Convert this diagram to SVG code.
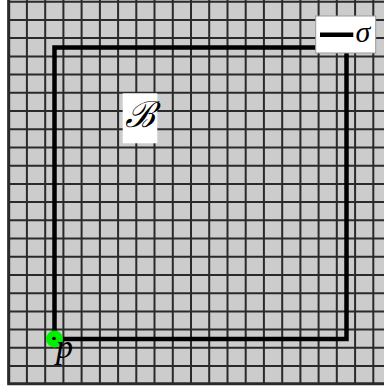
<svg xmlns="http://www.w3.org/2000/svg" width="384" height="389" viewBox="0 0 384 389">
<style>
.grid{stroke:#2a2a2a;stroke-width:2;fill:none}
.border{stroke:#2a2a2a;stroke-width:3;fill:none}
.sigma{stroke:#000;stroke-width:4.5;fill:none;stroke-linejoin:miter}
.lbl{font-family:"Liberation Serif","DejaVu Serif",serif;font-style:italic;fill:#000}
.box{fill:#fff}
</style>
<rect x="0" y="0" width="384" height="389" fill="#fff"/>
<g id="grid">
<rect x="8.7" y="0" width="376" height="383.7" fill="#cccccc"/>
<path class="grid" d="M8.7 0V383.7M26.9 0V383.7M45.2 0V383.7M63.4 0V383.7M81.6 0V383.7M99.9 0V383.7M118.1 0V383.7M136.3 0V383.7M154.5 0V383.7M172.8 0V383.7M191 0V383.7M209.2 0V383.7M227.5 0V383.7M245.7 0V383.7M263.9 0V383.7M282.2 0V383.7M300.4 0V383.7M318.6 0V383.7M336.8 0V383.7M355.1 0V383.7M373.3 0V383.7"/>
<path class="grid" d="M8.7 1.7H384M8.7 19.9H384M8.7 38.1H384M8.7 56.4H384M8.7 74.6H384M8.7 92.8H384M8.7 111H384M8.7 129.2H384M8.7 147.4H384M8.7 165.7H384M8.7 183.9H384M8.7 202.1H384M8.7 220.3H384M8.7 238.5H384M8.7 256.7H384M8.7 275H384M8.7 293.2H384M8.7 311.4H384M8.7 329.6H384M8.7 347.8H384M8.7 366H384"/>
<path class="border" d="M8.7 0V383.7H384"/>
</g>
<g id="connectors">
<path class="sigma" d="M54.5 47.5H346.5V339H54.5Z"/>
</g>
<g id="B">
<rect class="box" x="122.7" y="93.3" width="34.6" height="50"/>
<text class="lbl" x="140" y="127" font-size="36" text-anchor="middle">ℬ</text>
</g>
<g id="p">
<circle cx="54.5" cy="339" r="8.5" fill="#00ee00"/>
<circle cx="54" cy="338.5" r="1.8" fill="#000"/>
<text class="lbl" x="56" y="358" font-size="34">p</text>
</g>
<g id="legend">
<rect x="315.7" y="16" width="60" height="37" fill="#fff" stroke="#999" stroke-width="1"/>
<path class="sigma" d="M320 34.7H353.3"/>
<text class="lbl" x="355.5" y="42" font-size="30">σ</text>
</g>
</svg>
